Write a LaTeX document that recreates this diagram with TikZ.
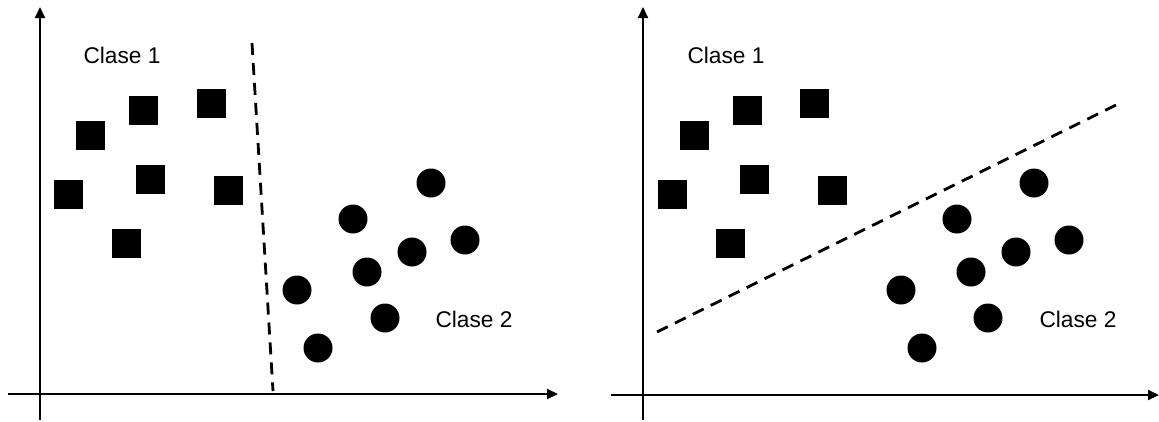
\documentclass[tikz,border=0pt]{standalone}
\usepackage{fontspec}
\setmainfont{Liberation Sans}
\usetikzlibrary{arrows.meta}
\begin{document}
\begin{tikzpicture}[x=1pt,y=-1pt,
  axis/.style={line width=2pt,-{Triangle[length=11pt,width=10pt]}},
  sq/.style={fill=black,draw=none,minimum size=29pt,inner sep=0pt,shape=rectangle},
  dot/.style={fill=black,draw=none,circle,minimum size=29pt,inner sep=0pt},
  sep/.style={line width=2.8pt,dash pattern=on 12pt off 8pt},
  lbl/.style={font=\fontsize{22.7}{27}\selectfont,inner sep=0pt}]
\useasboundingbox (0,0) rectangle (1159,421);
% ---- left panel
\coordinate (ly0) at (40,420); \coordinate (ly1) at (40,7);
\coordinate (lx0) at (8,394); \coordinate (lx1) at (558,394);
\draw[axis] (ly0) -- (ly1);
\draw[axis] (lx0) -- (lx1);
\node[lbl] (lc1) at (122,55) {Clase 1};
\node[lbl] (lc2) at (474,319) {Clase 2};
\node[sq] (ls1) at (90,135) {};
\node[sq] (ls2) at (143,110) {};
\node[sq] (ls3) at (211,103) {};
\node[sq] (ls4) at (68,194) {};
\node[sq] (ls5) at (150,179) {};
\node[sq] (ls6) at (228,190) {};
\node[sq] (ls7) at (126,243) {};
\node[dot] (lc1d) at (431,183) {};
\node[dot] (lc2d) at (353,219) {};
\node[dot] (lc3d) at (465,240) {};
\node[dot] (lc4d) at (412,252) {};
\node[dot] (lc5d) at (367,272) {};
\node[dot] (lc6d) at (297,290) {};
\node[dot] (lc7d) at (385,318) {};
\node[dot] (lc8d) at (318,348) {};
\coordinate (ld0) at (252,43); \coordinate (ld1) at (273,391);
\draw[sep] (ld0) -- (ld1);
% ---- right panel
\coordinate (ry0) at (643,420); \coordinate (ry1) at (643,7);
\coordinate (rx0) at (611,395); \coordinate (rx1) at (1159,395);
\draw[axis] (ry0) -- (ry1);
\draw[axis] (rx0) -- (rx1);
\node[lbl] (rc1) at (726,55) {Clase 1};
\node[lbl] (rc2) at (1078,319) {Clase 2};
\node[sq] (rs1) at (694,135) {};
\node[sq] (rs2) at (747,110) {};
\node[sq] (rs3) at (814,103) {};
\node[sq] (rs4) at (672,194) {};
\node[sq] (rs5) at (754,179) {};
\node[sq] (rs6) at (832,190) {};
\node[sq] (rs7) at (730,243) {};
\node[dot] (rc1d) at (1034,183) {};
\node[dot] (rc2d) at (957,219) {};
\node[dot] (rc3d) at (1069,240) {};
\node[dot] (rc4d) at (1016,252) {};
\node[dot] (rc5d) at (971,272) {};
\node[dot] (rc6d) at (901,290) {};
\node[dot] (rc7d) at (988,318) {};
\node[dot] (rc8d) at (922,348) {};
\coordinate (rd0) at (657,332); \coordinate (rd1) at (1120,103);
\draw[sep] (rd0) -- (rd1);
\end{tikzpicture}
\end{document}
